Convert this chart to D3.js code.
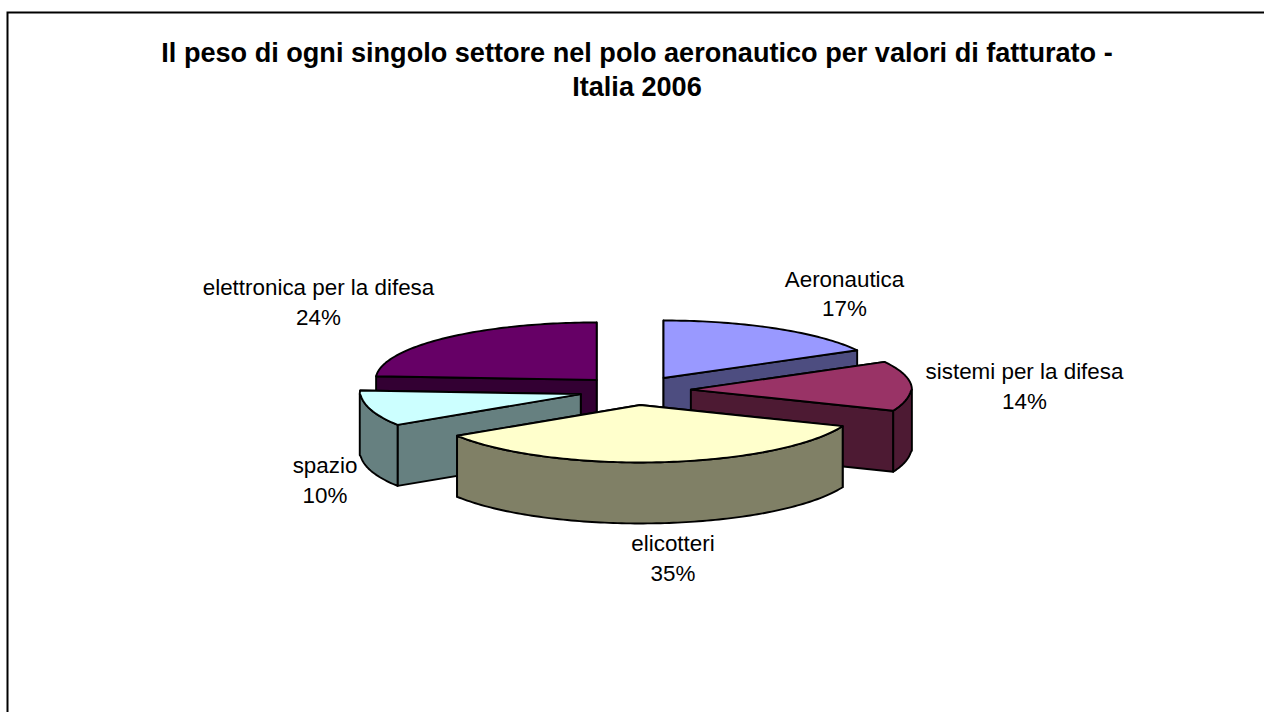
<!DOCTYPE html>
<html lang="it">
<head>
<meta charset="utf-8">
<title>Polo aeronautico</title>
<script src="https://cdn.jsdelivr.net/npm/d3@7/dist/d3.min.js"></script>
<style>
  html, body { margin: 0; padding: 0; background: #fff; overflow: hidden; }
  svg { display: block; }
  text { font-family: "Liberation Sans", Arial, sans-serif; fill: #000; }
</style>
</head>
<body>
<svg id="chart" width="1264" height="712"></svg>
<script>
// Settori e quote di fatturato (%)
const sectors = ["Aeronautica", "sistemi per la difesa", "elicotteri", "spazio", "elettronica per la difesa"];
const shares = [17, 14, 35, 10, 24];
const titleLines = ["Il peso di ogni singolo settore nel polo aeronautico per valori di fatturato -", "Italia 2006"];

// Colours of the upper face and of the walls of each slice
const topColors = ["#9999ff", "#993366", "#ffffcc", "#ccffff", "#660066"];
const wallColors = ["#4d4d80", "#4d1a33", "#808066", "#668080", "#330033"];

// Label centres, in page pixels
const labelX = [844.5, 1024.5, 673, 325, 318.5];
const labelY = [286.5, 379, 551, 473, 295];

// Painter's order: rear slices first
const drawOrder = [4, 0, 3, 1, 2];

// Projection of the tilted pie; frontPinch narrows the near half of the rim a little
const cx = 635, cy = 390.5, radius = 221, tilt = 0.26, explode = 56, depth = 61, frontPinch = 0.025;

const svg = d3.select("#chart");

// Frame: only the top and left sides fall inside the page
svg.append("path")
  .attr("d", "M7.5,716V12.5H1270")
  .attr("fill", "none").attr("stroke", "#000").attr("stroke-width", 2);

svg.append("g").selectAll("text").data(titleLines).join("text")
  .attr("x", 637).attr("y", (d, i) => 62 + i * 33.5)
  .attr("text-anchor", "middle")
  .attr("font-weight", "bold").attr("font-size", 27.1)
  .text(d => d);

const pie = d3.pie().sort(null).value(d => d).startAngle(0).endAngle(2 * Math.PI);
const arcs = pie(shares);

// Ground-plane point at angle a (clockwise from north) and distance r from the slice apex
function project(arc, a, r, drop) {
  const mid = (arc.startAngle + arc.endAngle) / 2;
  const pinch = 1 - frontPinch * Math.sqrt(Math.max(0, -Math.cos(a)));
  const px = explode * Math.sin(mid) + r * Math.sin(a) * pinch;
  const py = -explode * Math.cos(mid) - r * Math.cos(a);
  return [cx + px, cy + py * tilt + drop];
}

function arcPoints(arc, a0, a1, drop) {
  const n = Math.max(2, Math.ceil(Math.abs(a1 - a0) / 0.02));
  return d3.range(n + 1).map(i => project(arc, a0 + (a1 - a0) * i / n, radius, drop));
}

const outline = d3.line();
const closed = pts => outline(pts) + "Z";

const slices = svg.append("g").attr("stroke", "#000").attr("stroke-width", 1.9).attr("stroke-linejoin", "round");

drawOrder.forEach(i => {
  const arc = arcs[i];
  const g = slices.append("g");
  const wall = wallColors[i];

  // Radial walls, the one nearer the viewer painted last
  const edges = [arc.startAngle, arc.endAngle]
    .sort((a, b) => project(arc, a, radius, 0)[1] - project(arc, b, radius, 0)[1]);
  edges.forEach(a => {
    g.append("path").attr("fill", wall).attr("d", closed([
      project(arc, a, 0, 0), project(arc, a, radius, 0),
      project(arc, a, radius, depth), project(arc, a, 0, depth)
    ]));
  });

  // Outer wall, only where the rim faces the viewer
  const a0 = Math.max(arc.startAngle, Math.PI / 2);
  const a1 = Math.min(arc.endAngle, 3 * Math.PI / 2);
  if (a1 > a0) {
    const rim = arcPoints(arc, a0, a1, 0);
    const low = arcPoints(arc, a0, a1, depth).reverse();
    g.append("path").attr("fill", wall).attr("d", closed(rim.concat(low)));
  }

  // Upper face
  g.append("path").attr("fill", topColors[i]).attr("d", closed(
    [project(arc, arc.startAngle, 0, 0)].concat(arcPoints(arc, arc.startAngle, arc.endAngle, 0))
  ));
});

// Two-line labels: sector name and share
const labels = svg.append("g").attr("text-anchor", "middle").attr("font-size", 22.4);
sectors.forEach((name, i) => {
  labels.append("text").attr("x", labelX[i]).attr("y", labelY[i]).text(name);
  labels.append("text").attr("x", labelX[i]).attr("y", labelY[i] + 29.5).text(shares[i] + "%");
});
</script>
</body>
</html>
